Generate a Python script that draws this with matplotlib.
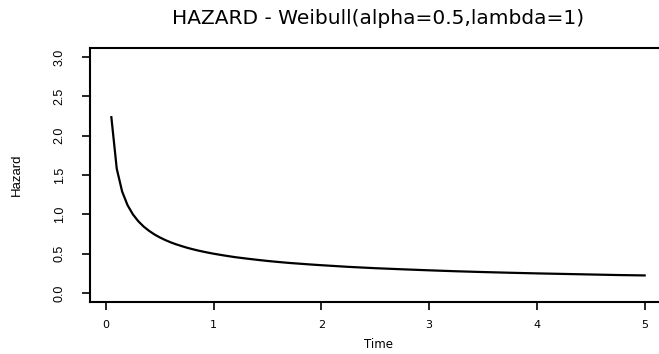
import matplotlib
matplotlib.use("Agg")
import matplotlib.pyplot as plt

# values
time = [0.05, 0.10, 0.15, 0.20, 0.25, 0.30, 0.35, 0.40, 0.45, 0.50,
        0.55, 0.60, 0.65, 0.70, 0.75, 0.80, 0.85, 0.90, 0.95, 1.00,
        1.1, 1.2, 1.3, 1.4, 1.5, 1.6, 1.7, 1.8, 1.9, 2.0,
        2.25, 2.5, 2.75, 3.0, 3.25, 3.5, 3.75, 4.0, 4.25, 4.5, 4.75, 5.0]
hazard = [2.236, 1.581, 1.291, 1.118, 1.000, 0.913, 0.845, 0.791, 0.745, 0.707,
          0.674, 0.645, 0.620, 0.598, 0.577, 0.559, 0.542, 0.527, 0.513, 0.500,
          0.477, 0.456, 0.439, 0.423, 0.408, 0.395, 0.383, 0.373, 0.363, 0.354,
          0.333, 0.316, 0.302, 0.289, 0.277, 0.267, 0.258, 0.250, 0.243, 0.236, 0.229, 0.224]

x_ticks = [0, 1, 2, 3, 4, 5]
y_ticks = [0.0, 0.5, 1.0, 1.5, 2.0, 2.5, 3.0]

narrow = ["Liberation Sans Narrow", "Liberation Sans", "DejaVu Sans"]
wide = ["DejaVu Sans"]
plt.rcParams["font.family"] = ["Liberation Sans", "DejaVu Sans"]

fig = plt.figure(figsize=(6.59, 3.54), dpi=100, facecolor="white")
# plot region runs past the right edge of the picture, as in the reference
ax = fig.add_axes([0.1366, 0.1455, 0.874, 0.72])
ax.patch.set_visible(False)

ax.plot(time, hazard, color="black", linewidth=1.6)

ax.set_xlim(-0.148, 5.198)
ax.set_ylim(-0.12, 3.12)

ax.set_xticks(x_ticks)
ax.set_xticklabels([str(v) for v in x_ticks], fontsize=8, family=wide)
ax.set_yticks(y_ticks)
ax.set_yticklabels([f"{v:.1f}" for v in y_ticks], fontsize=9, rotation=90,
                   va="center", family=narrow)
ax.tick_params(axis="both", length=5.5, width=1.2, color="black")
ax.tick_params(axis="x", pad=7)
ax.tick_params(axis="y", pad=12)

ax.spines["right"].set_visible(False)
for s in ["left", "top", "bottom"]:
    ax.spines[s].set_linewidth(1.5)
# stop the box lines at the picture's right edge
ax.spines["top"].set_bounds(-0.148, 5.14)
ax.spines["bottom"].set_bounds(-0.148, 5.14)

ax.set_xlabel("Time", fontsize=8.5, labelpad=6, family=wide)
ax.set_ylabel("Hazard", fontsize=9.5, labelpad=22, family=narrow)
fig.text(0.574, 0.947, "HAZARD - Weibull(alpha=0.5,lambda=1)", fontsize=14.5,
         ha="center", va="center", family=wide)

fig.savefig("out.png", dpi=100, facecolor="white")
